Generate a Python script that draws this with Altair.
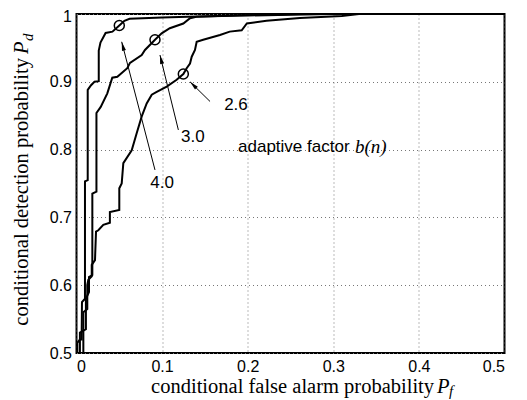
import math
import altair as alt
import pandas as pd

# ---- data ----
x_40 = [0.001, 0.001, 0.004, 0.006, 0.0064, 0.0099, 0.0099, 0.0131, 0.0131, 0.017, 0.021, 0.026,
        0.026, 0.028, 0.034, 0.042, 0.050, 0.056, 0.062, 0.10, 0.13, 0.17, 0.25, 0.30, 0.50]
y_40 = [0.500, 0.515, 0.520, 0.520, 0.575, 0.580, 0.753, 0.755, 0.888, 0.895, 0.900, 0.901,
        0.946, 0.958, 0.972, 0.974, 0.983, 0.990, 0.993, 0.995, 0.996, 0.997, 0.999, 1.0, 1.0]

x_30 = [0.004, 0.004, 0.011, 0.011, 0.0146, 0.0146, 0.0185, 0.0185, 0.0233, 0.0233, 0.0283, 0.036,
        0.0418, 0.0477, 0.0593, 0.0625, 0.0762, 0.080, 0.0917, 0.0995, 0.109, 0.1248, 0.1326,
        0.140, 0.19, 0.26, 0.50]
y_30 = [0.500, 0.530, 0.535, 0.580, 0.590, 0.612, 0.615, 0.735, 0.738, 0.854, 0.863, 0.883,
        0.906, 0.9075, 0.920, 0.928, 0.9395, 0.947, 0.962, 0.9715, 0.979, 0.986, 0.9937,
        0.996, 0.998, 1.0, 1.0]

x_26 = [0.008, 0.008, 0.0126, 0.0126, 0.0138, 0.0178, 0.0178, 0.0216, 0.0228, 0.0255, 0.0313, 0.039,
        0.039, 0.050, 0.050, 0.0528, 0.0547, 0.0645, 0.0703, 0.0762, 0.082, 0.0879, 0.0937, 0.1054,
        0.117, 0.1248, 0.1287, 0.1326, 0.1346, 0.1384, 0.1404, 0.148, 0.1676, 0.179, 0.193, 0.199,
        0.222, 0.261, 0.31, 0.33, 0.50]
y_26 = [0.500, 0.560, 0.565, 0.600, 0.608, 0.613, 0.630, 0.637, 0.679, 0.681, 0.689, 0.692,
        0.708, 0.711, 0.743, 0.750, 0.780, 0.799, 0.824, 0.849, 0.868, 0.881, 0.885, 0.893,
        0.903, 0.9115, 0.920, 0.927, 0.937, 0.947, 0.959, 0.962, 0.969, 0.974, 0.976, 0.986,
        0.990, 0.994, 0.997, 1.0, 1.0]

marker_x = [0.050, 0.0917, 0.1248]
marker_y = [0.983, 0.962, 0.9115]

labels = ["4.0", "3.0", "2.6"]
label_x = [0.0999, 0.136, 0.1863]
label_y = [0.751, 0.818, 0.866]
arrow_x1 = [0.0917, 0.119, 0.156]
arrow_y1 = [0.770, 0.829, 0.871]
arrow_x2 = [0.0528, 0.0975, 0.1326]
arrow_y2 = [0.959, 0.9395, 0.900]

xticks = [0, 0.1, 0.2, 0.3, 0.4, 0.5]
yticks = [0.5, 0.6, 0.7, 0.8, 0.9, 1.0]

W, H = 428, 339
XDOM, YDOM = [0, 0.5], [0.5, 1.0]
PX = W / (XDOM[1] - XDOM[0])
PY = H / (YDOM[1] - YDOM[0])

rows = []
for name, xs_, ys_ in [("4.0", x_40, y_40), ("3.0", x_30, y_30), ("2.6", x_26, y_26)]:
    for i, (a, b) in enumerate(zip(xs_, ys_)):
        rows.append({"x": a, "y": b, "b": name, "i": i})
curves = pd.DataFrame(rows)

markers = pd.DataFrame({"x": marker_x, "y": marker_y})

angs = []
for a1, b1, a2, b2 in zip(arrow_x1, arrow_y1, arrow_x2, arrow_y2):
    dx = (a2 - a1) * PX
    dy = -(b2 - b1) * PY
    angs.append(math.degrees(math.atan2(dx, -dy)) % 360)
arrows = pd.DataFrame({"x1": arrow_x1, "y1": arrow_y1, "x2": arrow_x2, "y2": arrow_y2, "ang": angs})
texts = pd.DataFrame({"x": label_x, "y": label_y, "t": labels})

xs = alt.Scale(domain=XDOM, nice=False, zero=False)
ys = alt.Scale(domain=YDOM, nice=False, zero=False)

xaxis = alt.Axis(values=xticks, format="~g", title=None, grid=True, gridDash=[1, 3],
                 gridColor="#777", gridWidth=1, domain=False, ticks=False,
                 labelFont="Liberation Sans", labelFontSize=16, labelColor="black",
                 labelPadding=5)
yaxis = alt.Axis(values=yticks, format="~g", title=None, grid=True, gridDash=[1, 3],
                 gridColor="#777", gridWidth=1, domain=False, ticks=False,
                 labelFont="Liberation Sans", labelFontSize=16, labelColor="black",
                 labelPadding=5,
                 labelOffset=alt.condition("datum.value == 1", alt.value(2), alt.value(0)))

lines = alt.Chart(curves).mark_line(color="black", strokeWidth=2).encode(
    x=alt.X("x:Q", scale=xs, axis=xaxis),
    y=alt.Y("y:Q", scale=ys, axis=yaxis),
    detail="b:N",
    order="i:Q",
)

circ = alt.Chart(markers).mark_point(shape="circle", filled=False, size=100, opacity=1,
                                     color="black", strokeWidth=1.5).encode(
    x=alt.X("x:Q", scale=xs), y=alt.Y("y:Q", scale=ys))

rules = alt.Chart(arrows).mark_rule(color="black", strokeWidth=1).encode(
    x=alt.X("x1:Q", scale=xs), y=alt.Y("y1:Q", scale=ys), x2="x2:Q", y2="y2:Q")

heads = alt.Chart(arrows).mark_point(shape="M0,0L-0.45,2L0.45,2Z", filled=True, size=81,
                                     color="black", strokeWidth=0, opacity=1).encode(
    x=alt.X("x2:Q", scale=xs), y=alt.Y("y2:Q", scale=ys),
    angle=alt.Angle("ang:Q", scale=None))

lab = alt.Chart(texts).mark_text(font="Liberation Sans", fontSize=17, align="center",
                                 baseline="middle", color="black").encode(
    x=alt.X("x:Q", scale=xs), y=alt.Y("y:Q", scale=ys), text="t:N")


def txt(df, **kw):
    return alt.Chart(pd.DataFrame(df)).mark_text(color="black", **kw).encode(
        x=alt.X("x:Q", scale=xs), y=alt.Y("y:Q", scale=ys), text="t:N")


adapt = txt({"x": [0.1887], "y": [0.804], "t": ["adaptive factor"]},
            font="Liberation Sans", fontSize=17, align="left", baseline="middle")
bn = txt({"x": [0.3254], "y": [0.804], "t": ["b(n)"]},
         font="Liberation Serif", fontSize=19, fontStyle="italic", align="left", baseline="middle")

xt_main = txt({"x": [0.4177], "y": [0.4405], "t": ["conditional false alarm probability"]},
              font="Liberation Serif", fontSize=20.5, align="right", baseline="alphabetic")
xt_p = txt({"x": [0.4211], "y": [0.4405], "t": ["P"]},
           font="Liberation Serif", fontSize=20.5, fontStyle="italic", align="left", baseline="alphabetic")
xt_f = txt({"x": [0.4352], "y": [0.4360], "t": ["f"]},
           font="Liberation Serif", fontSize=15, fontStyle="italic", align="left", baseline="alphabetic")

yt_main = txt({"x": [-0.0567], "y": [0.935], "t": ["conditional detection probability"]},
              font="Liberation Serif", fontSize=20.5, align="right", baseline="alphabetic", angle=270)
yt_p = txt({"x": [-0.0567], "y": [0.941], "t": ["P"]},
           font="Liberation Serif", fontSize=20.5, fontStyle="italic", align="left",
           baseline="alphabetic", angle=270)
yt_d = txt({"x": [-0.0508], "y": [0.960], "t": ["d"]},
           font="Liberation Serif", fontSize=15, fontStyle="italic", align="left",
           baseline="alphabetic", angle=270)

chart = alt.layer(lines, circ, rules, heads, lab, adapt, bn,
                  xt_main, xt_p, xt_f, yt_main, yt_p, yt_d).properties(
    width=W, height=H,
    autosize=alt.AutoSizeParams(type="none"),
    padding={"left": 68.5, "top": 6, "right": 10, "bottom": 47},
).configure_view(stroke="black", strokeWidth=2)

chart.save("out.html", embed_options={"renderer": "svg", "actions": False})
